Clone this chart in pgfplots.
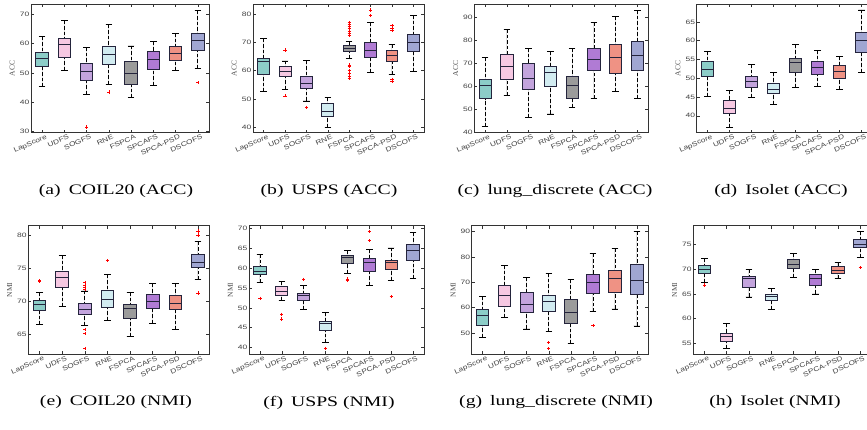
\documentclass[border=0pt]{standalone}
\usepackage{fontspec}
\setmainfont{Liberation Serif}
\newfontfamily\tickfont[FakeStretch=1.35]{Liberation Sans}
\newfontfamily\xtickfont[FakeStretch=1.25]{Liberation Sans}
\newfontfamily\capfont[FakeStretch=1.36]{Liberation Serif}
\usepackage{pgfplots}
\pgfplotsset{compat=1.18}
\usepgfplotslibrary{statistics}

\definecolor{cLap}{HTML}{8CCDC8}
\definecolor{cUDFS}{HTML}{F6C8E2}
\definecolor{cSOGFS}{HTML}{C3A4DD}
\definecolor{cRNE}{HTML}{D2ECF1}
\definecolor{cFSPCA}{HTML}{9B9B9B}
\definecolor{cSPCAFS}{HTML}{B07BD4}
\definecolor{cPSD}{HTML}{EF9284}
\definecolor{cDSC}{HTML}{A0A6D2}
\definecolor{bedge}{HTML}{24243C}

\pgfplotsset{
  bp/.style={
    scale only axis, xmin=0.5, xmax=8.5, xtick={1,...,8},
    xticklabels={LapScore,UDFS,SOGFS,RNE,FSPCA,SPCAFS,SPCA-PSD,DSCOFS},
    tick align=inside, major tick length=3pt,
    axis line style={black!80, line width=0.7pt},
    every tick/.style={black!80, line width=0.6pt},
    yticklabel style={font=\tickfont\fontsize{6.3}{7}\selectfont, text=black!75, inner sep=1.5pt},
    /pgf/number format/assume math mode=true,
    xticklabel style={font=\xtickfont\fontsize{6.6}{7}\selectfont, text=black!75,
      rotate=24, anchor=north east, inner sep=1pt, xshift=3.5pt, yshift=-1.5pt},
    ylabel style={font=\fontsize{7.5}{8}\selectfont, text=black!70},
    boxplot/draw direction=y,
    boxplot/box extend=0.56,
    boxplot/whisker extend=0.3,
    boxplot/every median/.style={line width=0.8pt},
    boxplot/draw/lower whisker/.code={
      \draw[black, dash pattern=on 3.5pt off 2pt, line width=0.8pt]
        (boxplot box cs:\pgfplotsboxplotvalue{lower whisker},0.5) --
        (boxplot box cs:\pgfplotsboxplotvalue{lower quartile},0.5);
      \draw[black, solid, line width=0.8pt]
        (boxplot whisker cs:\pgfplotsboxplotvalue{lower whisker},0) --
        (boxplot whisker cs:\pgfplotsboxplotvalue{lower whisker},1);
    },
    boxplot/draw/upper whisker/.code={
      \draw[black, dash pattern=on 3.5pt off 2pt, line width=0.8pt]
        (boxplot box cs:\pgfplotsboxplotvalue{upper whisker},0.5) --
        (boxplot box cs:\pgfplotsboxplotvalue{upper quartile},0.5);
      \draw[black, solid, line width=0.8pt]
        (boxplot whisker cs:\pgfplotsboxplotvalue{upper whisker},0) --
        (boxplot whisker cs:\pgfplotsboxplotvalue{upper whisker},1);
    },
  }
}

% #1 position, #2 colour, #3 lower whisker, #4 lower quartile, #5 median,
% #6 upper quartile, #7 upper whisker, #8 outliers
\newcommand\bx[8]{\addplot[draw=bedge, line width=0.9pt, fill=#2, mark=+, mark size=1.6pt,
  mark options={red, solid, line width=0.7pt},
  boxplot prepared={draw position=#1, lower whisker=#3, lower quartile=#4, median=#5,
  upper quartile=#6, upper whisker=#7}] coordinates {#8};}

\newcommand\capt[1]{\capfont\fontsize{14.5}{16}\selectfont #1}

\begin{document}
\begin{tikzpicture}
\path[use as bounding box] (0pt,0pt) rectangle (867pt,-429pt);

% (a) COIL20 ACC
\begin{axis}[bp, at={(31pt,-4.3pt)}, anchor=north west, width=178pt, height=128.4pt,
  ymin=29.66, ymax=73.4, ytick={30,40,...,70}, ylabel={ACC}]
\bx{1}{cLap}{45.3}{52.2}{54.9}{57.0}{62.4}{}
\bx{2}{cUDFS}{51.0}{55.3}{59.8}{61.7}{67.8}{}
\bx{3}{cSOGFS}{42.8}{47.3}{50.6}{53.3}{58.75}{(0,31.6)}
\bx{4}{cRNE}{46.1}{53.0}{56.25}{58.9}{66.4}{(0,43.5)}
\bx{5}{cFSPCA}{41.6}{46.25}{50.0}{53.9}{59.2}{}
\bx{6}{cSPCAFS}{45.8}{51.25}{54.8}{57.5}{60.7}{}
\bx{7}{cPSD}{50.8}{54.4}{56.7}{59.0}{63.5}{}
\bx{8}{cDSC}{51.6}{57.7}{61.25}{63.4}{71.25}{(0,46.7)}
\end{axis}

% (b) USPS ACC
\begin{axis}[bp, at={(253pt,-4.3pt)}, anchor=north west, width=171pt, height=128.4pt,
  ymin=38.1, ymax=83.4, ytick={40,50,...,80}, ylabel={ACC}]
\bx{1}{cLap}{52.6}{58.8}{63.2}{64.4}{71.2}{}
\bx{2}{cUDFS}{53.4}{57.9}{59.6}{61.4}{63.4}{(0,67.3) (0,51.1)}
\bx{3}{cSOGFS}{49.3}{53.8}{55.4}{58.0}{63.5}{(0,47.1)}
\bx{4}{cRNE}{40.0}{44.0}{45.6}{48.4}{50.5}{}
\bx{5}{cFSPCA}{64.4}{66.9}{67.9}{68.8}{70.4}{(0,77.0) (0,76.2) (0,75.5) (0,74.8) (0,74.0) (0,73.2) (0,72.6) (0,62.0) (0,61.5) (0,60.0) (0,59.0) (0,58.0) (0,57.2)}
\bx{6}{cSPCAFS}{59.5}{64.7}{67.2}{70.0}{76.9}{(0,81.4) (0,79.4)}
\bx{7}{cPSD}{58.6}{63.4}{65.5}{67.1}{69.2}{(0,75.8) (0,75.0) (0,74.1) (0,57.0) (0,56.2)}
\bx{8}{cDSC}{59.6}{66.9}{69.9}{72.9}{79.6}{}
\end{axis}

% (c) lung_discrete ACC
\begin{axis}[bp, at={(474.3pt,-4.3pt)}, anchor=north west, width=174pt, height=128.4pt,
  ymin=39.8, ymax=95.8, ytick={40,50,...,90}, ylabel={ACC}]
\bx{1}{cLap}{42.5}{54.6}{60.3}{62.9}{72.6}{}
\bx{2}{cUDFS}{56.1}{62.9}{68.6}{74.1}{84.9}{}
\bx{3}{cSOGFS}{46.5}{58.8}{63.6}{70.0}{76.7}{}
\bx{4}{cRNE}{48.0}{60.1}{65.9}{68.6}{75.2}{}
\bx{5}{cFSPCA}{50.7}{54.8}{60.3}{64.3}{76.7}{}
\bx{6}{cSPCAFS}{54.8}{67.1}{71.9}{76.7}{87.7}{}
\bx{7}{cPSD}{57.7}{65.65}{72.75}{78.3}{90.6}{}
\bx{8}{cDSC}{54.8}{67.1}{73.5}{79.4}{93.2}{}
\end{axis}

% (d) Isolet ACC
\begin{axis}[bp, at={(696.7pt,-4.3pt)}, anchor=north west, width=176pt, height=128.4pt,
  ymin=35.5, ymax=69.7, ytick={40,45,...,65}, ylabel={ACC}]
\bx{1}{cLap}{45.1}{50.5}{52.4}{54.6}{57.2}{}
\bx{2}{cUDFS}{37.0}{40.5}{42.0}{44.0}{46.7}{}
\bx{3}{cSOGFS}{44.9}{47.5}{49.25}{50.6}{53.7}{}
\bx{4}{cRNE}{43.1}{46.0}{47.0}{48.5}{51.5}{}
\bx{5}{cFSPCA}{47.65}{51.6}{54.3}{55.2}{58.9}{}
\bx{6}{cSPCAFS}{47.8}{51.1}{52.9}{54.6}{57.5}{}
\bx{7}{cPSD}{47.1}{50.0}{51.8}{53.5}{55.9}{}
\bx{8}{cDSC}{51.65}{56.9}{60.2}{62.3}{68.2}{}
\end{axis}

% (e) COIL20 NMI
\begin{axis}[bp, at={(28.3pt,-225.7pt)}, anchor=north west, width=181pt, height=128.6pt,
  ymin=62.0, ymax=81.5, ytick={65,70,...,80}, ylabel={NMI}]
\bx{1}{cLap}{66.5}{68.6}{69.6}{70.2}{71.4}{(0,73.2) (0,73.0)}
\bx{2}{cUDFS}{69.2}{72.2}{73.7}{74.6}{77.0}{}
\bx{3}{cSOGFS}{66.4}{68.1}{68.8}{69.7}{71.6}{(0,72.9) (0,72.5) (0,72.2) (0,71.9) (0,65.75) (0,65.15) (0,62.9)}
\bx{4}{cRNE}{67.2}{69.1}{70.25}{71.7}{74.1}{(0,76.2)}
\bx{5}{cFSPCA}{64.65}{67.4}{68.9}{69.5}{71.4}{}
\bx{6}{cSPCAFS}{66.7}{69.0}{70.0}{71.1}{72.7}{}
\bx{7}{cPSD}{65.75}{68.8}{69.7}{71.0}{72.7}{}
\bx{8}{cDSC}{73.3}{75.1}{75.9}{77.1}{79.1}{(0,80.7) (0,80.1) (0,71.3)}
\end{axis}

% (f) USPS NMI
\begin{axis}[bp, at={(249pt,-225.7pt)}, anchor=north west, width=175pt, height=128.6pt,
  ymin=38.3, ymax=70.7, ytick={40,45,...,70}, ylabel={NMI}]
\bx{1}{cLap}{56.35}{58.3}{59.3}{60.4}{63.55}{(0,52.4)}
\bx{2}{cUDFS}{51.9}{53.1}{54.25}{55.3}{56.75}{(0,48.4) (0,47.2)}
\bx{3}{cSOGFS}{49.5}{51.8}{53.2}{53.75}{55.75}{(0,57.2)}
\bx{4}{cRNE}{41.25}{44.4}{46.0}{46.5}{48.8}{(0,39.85)}
\bx{5}{cFSPCA}{58.7}{61.2}{62.7}{63.3}{64.4}{(0,57.3) (0,56.85)}
\bx{6}{cSPCAFS}{55.75}{59.1}{61.5}{62.5}{64.8}{(0,69.25) (0,66.9)}
\bx{7}{cPSD}{57.0}{59.6}{61.4}{62.0}{65.1}{(0,52.8)}
\bx{8}{cDSC}{57.4}{62.0}{64.6}{66.0}{68.9}{}
\end{axis}

% (g) lung_discrete NMI
\begin{axis}[bp, at={(471.7pt,-225.7pt)}, anchor=north west, width=176.3pt, height=128.6pt,
  ymin=41.6, ymax=92.4, ytick={50,60,...,90}, ylabel={NMI}]
\bx{1}{cLap}{48.3}{53.0}{57.1}{59.3}{64.6}{}
\bx{2}{cUDFS}{56.05}{60.7}{65.0}{68.7}{76.8}{}
\bx{3}{cSOGFS}{51.6}{58.0}{61.3}{65.9}{71.8}{}
\bx{4}{cRNE}{50.65}{58.55}{62.4}{64.7}{73.55}{(0,46.3) (0,43.95)}
\bx{5}{cFSPCA}{45.9}{53.8}{58.0}{63.4}{71.05}{}
\bx{6}{cSPCAFS}{58.4}{65.5}{69.9}{73.2}{81.3}{(0,52.9)}
\bx{7}{cPSD}{59.5}{66.05}{71.6}{74.9}{83.55}{}
\bx{8}{cDSC}{52.8}{65.4}{70.8}{77.2}{90.0}{}
\end{axis}

% (h) Isolet NMI
\begin{axis}[bp, at={(693.3pt,-225.7pt)}, anchor=north west, width=178pt, height=128.6pt,
  ymin=52.8, ymax=78.8, ytick={55,60,...,75}, ylabel={NMI}]
\bx{1}{cLap}{67.3}{69.1}{70.0}{70.75}{72.1}{(0,66.8)}
\bx{2}{cUDFS}{54.0}{55.5}{56.35}{57.0}{59.0}{}
\bx{3}{cSOGFS}{64.4}{66.3}{68.05}{68.5}{69.9}{}
\bx{4}{cRNE}{61.9}{63.6}{64.5}{65.0}{66.1}{}
\bx{5}{cFSPCA}{68.3}{70.1}{71.0}{71.9}{73.25}{}
\bx{6}{cSPCAFS}{65.0}{66.7}{68.1}{68.9}{70.0}{}
\bx{7}{cPSD}{68.1}{69.1}{69.8}{70.5}{71.4}{}
\bx{8}{cDSC}{72.3}{74.4}{75.1}{76.0}{77.55}{(0,70.3)}
\end{axis}

\node at (116pt,-191pt) {\capt{(a)\hspace{8pt}COIL20 (ACC)}};
\node at (329pt,-191pt) {\capt{(b)\hspace{8pt}USPS (ACC)}};
\node at (555pt,-191pt) {\capt{(c)\hspace{8pt}lung\_discrete (ACC)}};
\node at (781pt,-191pt) {\capt{(d)\hspace{8pt}Isolet (ACC)}};
\node at (116pt,-402.5pt) {\capt{(e)\hspace{8pt}COIL20 (NMI)}};
\node at (329pt,-402.5pt) {\capt{(f)\hspace{8pt}USPS (NMI)}};
\node at (556pt,-402.5pt) {\capt{(g)\hspace{8pt}lung\_discrete (NMI)}};
\node at (775pt,-402.5pt) {\capt{(h)\hspace{8pt}Isolet (NMI)}};
\end{tikzpicture}
\end{document}
